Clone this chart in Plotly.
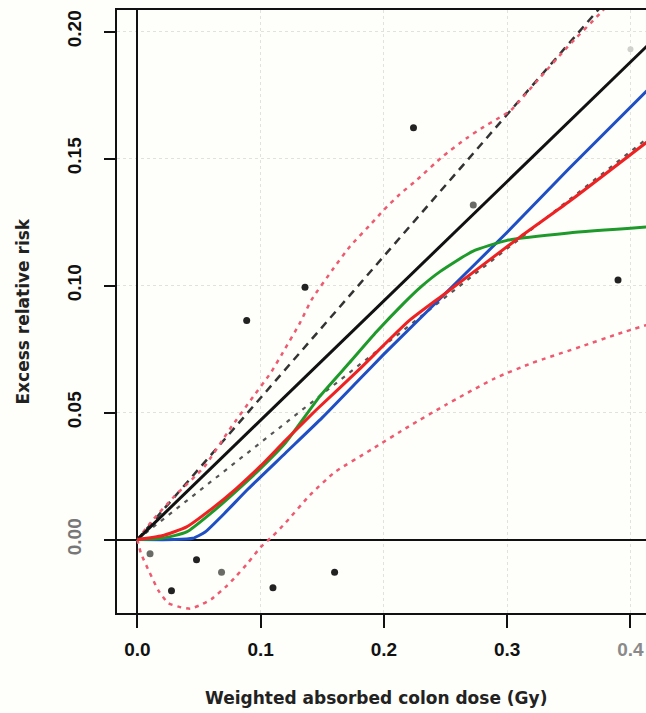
import plotly.graph_objects as go

# ---- data ----
dose_ticks = [0.0, 0.1, 0.2, 0.3, 0.4]
dose_tick_labels = ["0.0", "0.1", "0.2", "0.3", "<span style='color:#8a8a8a'>0.4</span>"]
err_ticks = [0.00, 0.05, 0.10, 0.15, 0.20]
err_tick_labels = ["<span style='color:#777'>0.00</span>", "0.05", "0.10", "0.15", "0.20"]

pts_dark_x = [0.0277, 0.048, 0.110, 0.160, 0.0887, 0.136, 0.224, 0.3899]
pts_dark_y = [-0.0201, -0.0079, -0.0190, -0.0129, 0.0863, 0.0993, 0.1621, 0.1022]
pts_grey_x = [0.0103, 0.0683, 0.2725]
pts_grey_y = [-0.0056, -0.0129, 0.1317]
pts_faint_x = [0.400]
pts_faint_y = [0.193]

linear_x = [0.0, 0.1, 0.2, 0.3, 0.42]
linear_y = [0.0, 0.047, 0.094, 0.141, 0.1974]
linear_hi_x = [0.0, 0.1, 0.2, 0.3, 0.39]
linear_hi_y = [0.0, 0.0558, 0.1116, 0.1674, 0.2176]
linear_lo_x = [0.0, 0.1, 0.2, 0.3, 0.42]
linear_lo_y = [0.0, 0.0382, 0.0764, 0.1146, 0.1604]

band_hi_x = [0, 0.013, 0.03, 0.054, 0.075, 0.094, 0.108, 0.118, 0.132, 0.1414, 0.158,
             0.1726, 0.19, 0.2, 0.213, 0.227, 0.248, 0.267, 0.281, 0.2915, 0.303,
             0.325, 0.349, 0.376, 0.39]
band_hi_y = [0, 0.008, 0.017, 0.0285, 0.0435, 0.0563, 0.0655, 0.0736, 0.0854, 0.0945, 0.106,
             0.1155, 0.1245, 0.1298, 0.1360, 0.1417, 0.151, 0.158, 0.1625, 0.1655, 0.1690,
             0.181, 0.194, 0.2075, 0.215]
band_lo_x = [0, 0.003, 0.01, 0.017, 0.025, 0.034, 0.043, 0.051, 0.06, 0.073, 0.08, 0.09,
             0.1, 0.11, 0.12, 0.14, 0.16, 0.19, 0.22, 0.25, 0.29, 0.32, 0.36, 0.39, 0.42]
band_lo_y = [0, -0.0055, -0.013, -0.020, -0.025, -0.0265, -0.0272, -0.0258, -0.0235, -0.018,
             -0.0145, -0.009, -0.003, 0.0015, 0.0065, 0.0175, 0.0265, 0.0355, 0.0445, 0.053,
             0.0635, 0.0695, 0.0760, 0.0810, 0.0855]

blue_x = [0, 0.03, 0.045, 0.055, 0.07, 0.09, 0.12, 0.15, 0.18, 0.2, 0.25, 0.3, 0.35, 0.42]
blue_y = [0, 0, 0.0005, 0.003, 0.010, 0.020, 0.034, 0.048, 0.063, 0.073, 0.097, 0.121, 0.146, 0.180]
red_x = [0, 0.02, 0.04, 0.06, 0.08, 0.1, 0.12, 0.145, 0.18, 0.22, 0.25, 0.31, 0.35, 0.42]
red_y = [0, 0.0015, 0.005, 0.012, 0.020, 0.029, 0.039, 0.051, 0.067, 0.086, 0.097, 0.119, 0.133, 0.159]
green_x = [0, 0.02, 0.04, 0.06, 0.08, 0.1, 0.12, 0.148, 0.172, 0.194, 0.216, 0.23, 0.2455,
           0.272, 0.3, 0.35, 0.42]
green_y = [0, 0.0005, 0.003, 0.0105, 0.019, 0.028, 0.038, 0.0564, 0.0696, 0.0818, 0.0930,
           0.0995, 0.1055, 0.1135, 0.1178, 0.1207, 0.1233]

BG = "#fefefa"
FONT = "Liberation Sans"
TFONT = "DejaVu Sans"

fig = go.Figure()

def line(x, y, color, width, dash="solid", shape="spline", smooth=0.5):
    fig.add_trace(go.Scatter(x=x, y=y, mode="lines",
                             line=dict(color=color, width=width, dash=dash, shape=shape,
                                       smoothing=smooth if shape == "spline" else None),
                             hoverinfo="skip", showlegend=False))

line(linear_lo_x, linear_lo_y, "#555555", 2.2, "4px,6px", "linear")
line(linear_hi_x, linear_hi_y, "#333333", 2.5, "8px,6px", "linear")
line(band_hi_x, band_hi_y, "#ee5a70", 2.5, "4px,5px")
line(band_lo_x, band_lo_y, "#ee5a70", 2.5, "4px,5px")
line(linear_x, linear_y, "#111111", 3, "solid", "linear")
line(blue_x, blue_y, "#1f4fc4", 3)
line(green_x, green_y, "#1e9a2a", 3)
line(red_x, red_y, "#ee2222", 3)

fig.add_trace(go.Scatter(x=pts_faint_x, y=pts_faint_y, mode="markers",
                         marker=dict(color="#d0d0cc", size=6), hoverinfo="skip", showlegend=False))
fig.add_trace(go.Scatter(x=pts_grey_x, y=pts_grey_y, mode="markers",
                         marker=dict(color="#6a6a66", size=7), hoverinfo="skip", showlegend=False))
fig.add_trace(go.Scatter(x=pts_dark_x, y=pts_dark_y, mode="markers",
                         marker=dict(color="#222222", size=7), hoverinfo="skip", showlegend=False))

fig.update_layout(
    width=646, height=713,
    margin=dict(l=117, r=0, t=10, b=100, autoexpand=False),
    paper_bgcolor=BG, plot_bgcolor=BG,
    font=dict(family=FONT, color="#111"),
    showlegend=False,
    xaxis=dict(range=[-0.0165, 0.4126], tickvals=dose_ticks, ticktext=dose_tick_labels,
               automargin=False,
               showline=True, mirror=True, linecolor="#111", linewidth=2,
               ticks="outside", ticklen=13, tickwidth=2, tickcolor="#111",
               tickfont=dict(family=FONT, size=19, weight="bold", color="#111"),
               ticklabelstandoff=5,
               showgrid=True, gridcolor="#e2e2dc", griddash="dot", gridwidth=1,
               zeroline=True, zerolinecolor="#111", zerolinewidth=2),
    yaxis=dict(range=[-0.0289, 0.2085], tickvals=err_ticks, ticktext=err_tick_labels,
               automargin=False,
               showline=True, mirror=False, linecolor="#111", linewidth=2,
               ticks="outside", ticklen=11, tickwidth=2, tickcolor="#111",
               tickangle=-90,
               tickfont=dict(family=FONT, size=19, weight="bold", color="#111"),
               ticklabelstandoff=15,
               showgrid=True, gridcolor="#e2e2dc", griddash="dot", gridwidth=1,
               zeroline=True, zerolinecolor="#111", zerolinewidth=2),
    annotations=[
        dict(text="Weighted absorbed colon dose (Gy)", xref="paper", yref="paper",
             x=0.49, y=0, xanchor="center", yanchor="middle", yshift=-85, showarrow=False,
             font=dict(family=TFONT, size=17, weight="bold", color="#222")),
        dict(text="Excess relative risk", xref="paper", yref="paper",
             x=0, y=0.5, xanchor="center", yanchor="middle", xshift=-95, textangle=-90,
             showarrow=False, font=dict(family=TFONT, size=17, weight="bold", color="#222")),
    ],
)

fig.write_html(
    "out.html",
    config={"displayModeBar": False},
    post_script="document.body.style.margin='0';document.body.style.padding='0';"
                "document.body.style.overflow='hidden';"
                "document.body.style.background='" + BG + "';",
)
